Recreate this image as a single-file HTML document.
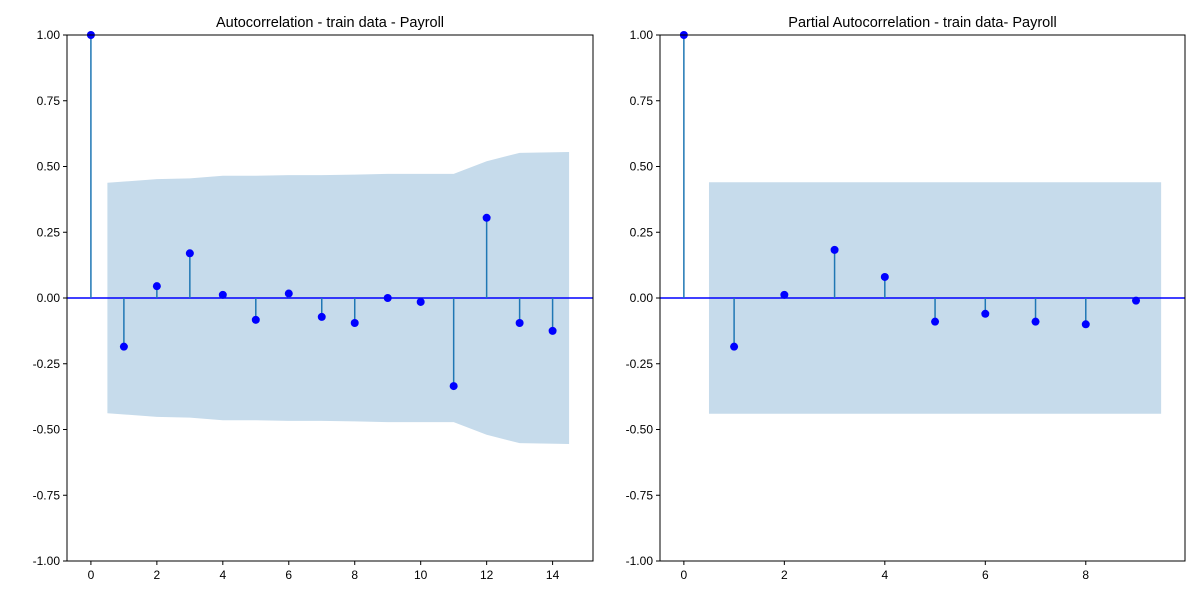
<!DOCTYPE html>
<html><head><meta charset="utf-8"><style>
html,body{margin:0;padding:0;background:#fff;}
svg{display:block;font-family:"Liberation Sans","DejaVu Sans",sans-serif;}
</style></head><body>
<svg id="c" width="1200" height="600" viewBox="0 0 1200 600"></svg>
<script>
const acfLags=[0,1,2,3,4,5,6,7,8,9,10,11,12,13,14];
const acfValues=[1,-0.185,0.045,0.17,0.012,-0.083,0.017,-0.072,-0.095,0.0,-0.015,-0.335,0.305,-0.095,-0.125];
const acfBand=[0.438,0.452,0.455,0.465,0.465,0.467,0.467,0.469,0.472,0.472,0.472,0.52,0.552,0.555];
const pacfLags=[0,1,2,3,4,5,6,7,8,9];
const pacfValues=[1,-0.185,0.012,0.183,0.08,-0.09,-0.06,-0.09,-0.1,-0.01];
const pacfBand=[0.44,0.44,0.44,0.44,0.44,0.44,0.44,0.44,0.44];
const yTicks=[-1,-0.75,-0.5,-0.25,0,0.25,0.5,0.75,1];
const acfXTicks=[0,2,4,6,8,10,12,14];
const pacfXTicks=[0,2,4,6,8];
const NS='http://www.w3.org/2000/svg';
const svg=document.getElementById('c');
function mk(t,a,p){const e=document.createElementNS(NS,t);for(const k in a)e.setAttribute(k,a[k]);(p||svg).appendChild(e);return e;}
function panel(name,left,right,title,lags,vals,band,xTicks){
  const top=35,bot=561;
  const n=lags.length-1;
  const xmin=0, xmax=n+0.5, m=(xmax-xmin)*0.05;
  const x0=xmin-m,x1=xmax+m;
  const sx=v=>left+(v-x0)/(x1-x0)*(right-left);
  const sy=v=>top+(1-v)/2*(bot-top);
  const g=mk('g',{});
  
  
  // band
  const bx=band.map((b,i)=>i+1);
  bx[0]-=0.5;bx[bx.length-1]+=0.5;
  let d='';
  bx.forEach((x,i)=>{d+=(i?'L':'M')+sx(x)+','+sy(band[i]);});
  for(let i=bx.length-1;i>=0;i--)d+='L'+sx(bx[i])+','+sy(-band[i]);
  const p=mk('path',{d:d+'Z',fill:'#c6dbeb'},g);
  
  
  // zero line
  const zl=mk('line',{x1:left,x2:right,y1:sy(0),y2:sy(0),stroke:'#0000ff','stroke-width':1.5},g);
  
  
  lags.forEach((l,i)=>{
    const s=mk('line',{x1:sx(l),x2:sx(l),y1:sy(0),y2:sy(vals[i]),stroke:'#1f77b4','stroke-width':1.5},g);
    
    
    const c=mk('circle',{cx:sx(l),cy:sy(vals[i]),r:4,fill:'#0000ff'},g);
    
    
  });
  const fr=mk('rect',{x:left,y:top,width:right-left,height:bot-top,fill:'none',stroke:'#000','stroke-width':1},g);
  
  
  yTicks.forEach(v=>{
    mk('line',{x1:left-4,x2:left,y1:sy(v),y2:sy(v),stroke:'#000'},g);
    const t=mk('text',{x:left-7,y:sy(v)+4,'text-anchor':'end','font-size':12,fill:'#000'},g);
    t.textContent=v.toFixed(2);
    
    
  });
  xTicks.forEach(v=>{
    mk('line',{x1:sx(v),x2:sx(v),y1:bot,y2:bot+4,stroke:'#000'},g);
    const t=mk('text',{x:sx(v),y:bot+18,'text-anchor':'middle','font-size':12,fill:'#000'},g);
    t.textContent=v;
    
    
  });
  const tt=mk('text',{x:(left+right)/2,y:top-8,'text-anchor':'middle','font-size':14.5,fill:'#000'},g);
  tt.textContent=title;
  
  
}
panel('acf-panel',67,593,'Autocorrelation - train data - Payroll',acfLags,acfValues,acfBand,acfXTicks);
panel('pacf-panel',660,1185,'Partial Autocorrelation - train data- Payroll',pacfLags,pacfValues,pacfBand,pacfXTicks);
</script>
</body></html>
